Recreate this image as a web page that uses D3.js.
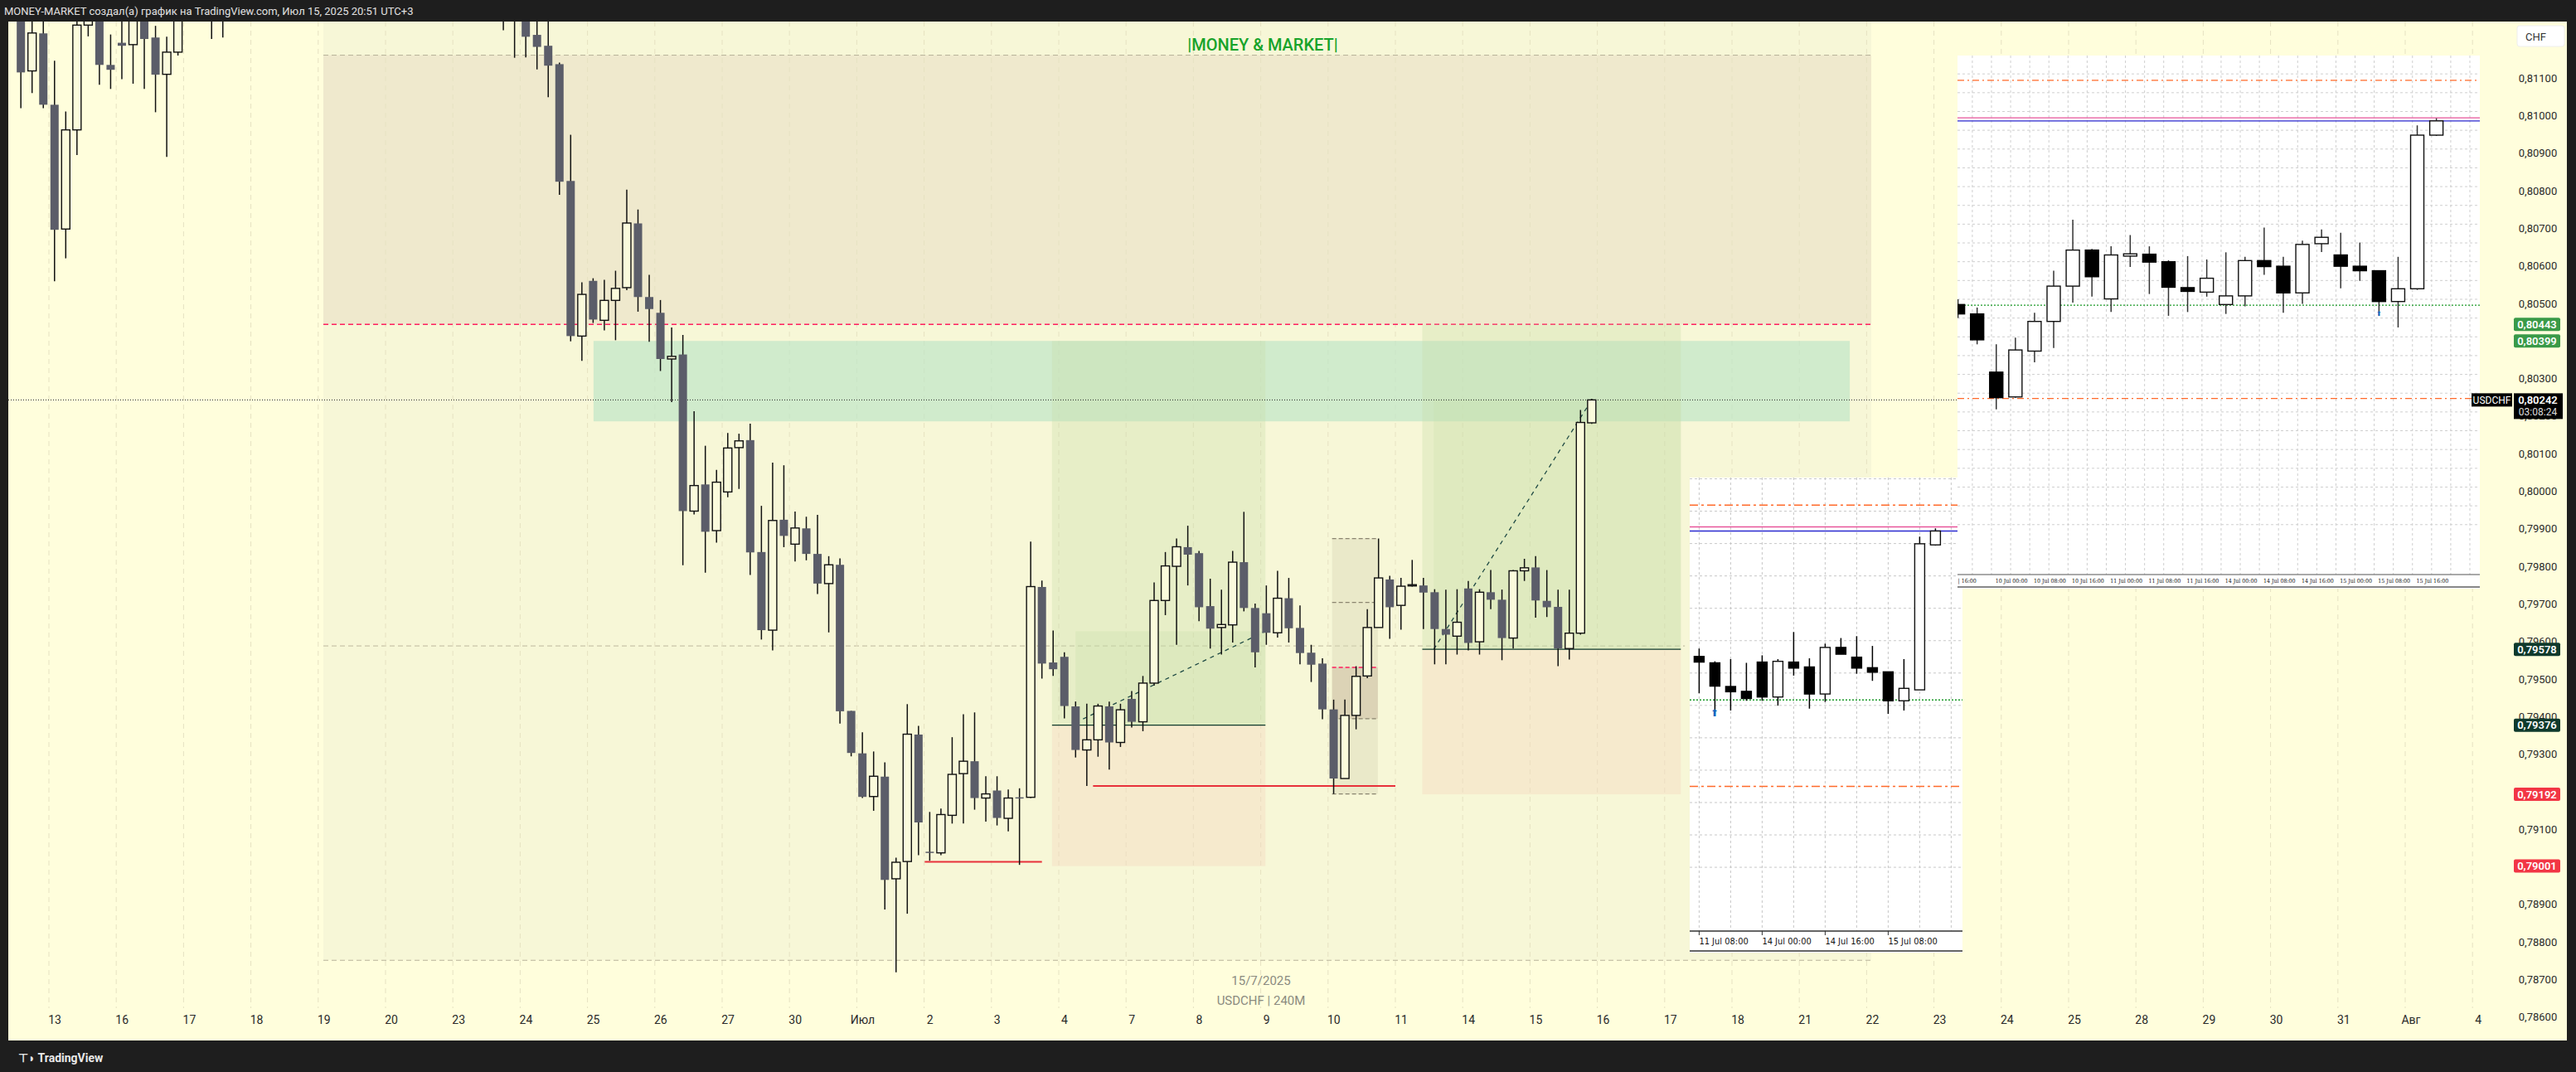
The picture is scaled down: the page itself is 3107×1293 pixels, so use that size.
<!DOCTYPE html>
<html><head><meta charset="utf-8">
<script src="https://cdn.jsdelivr.net/npm/d3@7"></script>
<style>body{margin:0;background:#1e1e1e;overflow:hidden}svg{display:block}</style>
</head><body><svg id="c"></svg>
<script>
// ---- data ----
const dayLabels = ["13","16","17","18","19","20","23","24","25","26","27","30","Июл","2","3","4","7","8","9","10","11","14","15","16","17","18","21","22","23","24","25","28","29","30","31","Авг","4"];
const priceTicks = d3.range(0, 26).map(i => +(0.786 + i * 0.001).toFixed(3));
const firstBar = -3;
// 4H bars [open, high, low, close], from bar -3 (12 Jun) to bar 137 (15 Jul 20:00)
const bars = [
[0.8130,0.8134,0.81019,0.81114],[0.81118,0.8128,0.81059,0.81219],[0.81218,0.8127,0.81019,0.81028],
[0.81028,0.81145,0.80558,0.80695],[0.80697,0.8101,0.80619,0.80961],[0.80961,0.8128,0.80894,0.8124],
[0.8124,0.8134,0.8121,0.8130],[0.8132,0.8136,0.81081,0.81134],[0.81134,0.81215,0.8107,0.81121],
[0.81193,0.8128,0.81096,0.81185],[0.81188,0.8135,0.81084,0.8131],[0.8133,0.8136,0.8107,0.81203],
[0.81207,0.81238,0.81008,0.81108],[0.81109,0.81209,0.80889,0.81168],[0.81168,0.8134,0.81159,0.8130],
[0.8134,0.8140,0.8128,0.8136],[0.8136,0.8142,0.8130,0.8134],[0.8136,0.8140,0.81203,0.8133],
[0.8134,0.8142,0.81207,0.8138],
[0.8138,0.8146,0.8133,0.8143],[0.8143,0.8150,0.8138,0.8140],[0.8140,0.8147,0.8135,0.8145],[0.8145,0.8152,0.8140,0.8149],
[0.8149,0.8156,0.8143,0.8146],[0.8146,0.8153,0.8140,0.8151],[0.8151,0.8158,0.8145,0.8155],[0.8155,0.8160,0.8147,0.8150],
[0.8150,0.8157,0.8144,0.8153],[0.8153,0.8161,0.8148,0.8158],[0.8158,0.8164,0.8151,0.8154],[0.8154,0.8160,0.8147,0.8149],
[0.8149,0.8156,0.8142,0.8152],[0.8152,0.8158,0.8145,0.8147],[0.8147,0.8154,0.8140,0.8150],[0.8150,0.8157,0.8144,0.8146],
[0.8146,0.8152,0.8139,0.8143],[0.8143,0.8150,0.8136,0.8147],[0.8147,0.8153,0.8140,0.8144],[0.8144,0.8150,0.8137,0.8141],
[0.8141,0.8148,0.8134,0.8145],[0.8145,0.8151,0.8138,0.8142],[0.8142,0.8148,0.8135,0.8139],[0.8139,0.8145,0.8132,0.8141],
[0.8140,0.8145,0.81226,0.8135],[0.8134,0.8140,0.81153,0.8137],[0.8134,0.8137,0.81154,0.81209],
[0.81214,0.8128,0.81122,0.81182],[0.81185,0.8125,0.81048,0.81132],[0.81136,0.8114,0.80788,0.80823],
[0.80825,0.80948,0.80398,0.80412],[0.80412,0.80555,0.80346,0.80523],[0.80559,0.80566,0.80447,0.80456],
[0.80454,0.80562,0.80427,0.80507],[0.80507,0.80586,0.80401,0.80539],[0.80541,0.80802,0.80534,0.80713],
[0.80712,0.80749,0.80477,0.80516],[0.80516,0.80575,0.80397,0.80484],[0.80474,0.80508,0.80319,0.80351],
[0.80351,0.80435,0.80236,0.80358],[0.80363,0.80415,0.79802,0.79946],[0.79946,0.80212,0.79937,0.80014],
[0.80017,0.8012,0.79782,0.79891],[0.79894,0.80056,0.79862,0.80023],[0.79997,0.80154,0.79983,0.80114],
[0.80115,0.80152,0.80005,0.80133],[0.80135,0.80179,0.79776,0.79836],[0.79837,0.7996,0.79604,0.79629],
[0.79629,0.80075,0.79575,0.79921],[0.79923,0.80068,0.7985,0.7988],[0.79858,0.79945,0.79812,0.79901],
[0.799,0.79931,0.79815,0.79832],[0.79832,0.79936,0.79725,0.79753],[0.79753,0.79826,0.79623,0.79803],
[0.79803,0.7982,0.7938,0.79413],[0.79414,0.79414,0.79293,0.79302],[0.79301,0.79357,0.79182,0.79185],
[0.79186,0.79306,0.79148,0.7924],[0.79239,0.79277,0.78885,0.78964],[0.78967,0.79023,0.78718,0.79011],
[0.79013,0.79432,0.78874,0.79352],[0.79351,0.79374,0.7903,0.79117],[0.79039,0.79145,0.79015,0.79036],
[0.79036,0.79154,0.7903,0.79138],[0.79136,0.79344,0.79114,0.79245],[0.79247,0.79405,0.79114,0.7928],
[0.7928,0.7941,0.79151,0.79182],[0.79182,0.7924,0.79119,0.79193],[0.79202,0.7924,0.79109,0.79129],
[0.79128,0.79205,0.79093,0.79182],[0.79184,0.79208,0.79004,0.79182],[0.79184,0.79865,0.79182,0.79745],
[0.79744,0.79761,0.795,0.7954],[0.79543,0.79628,0.79507,0.79525],[0.79558,0.7957,0.79394,0.79427],
[0.79426,0.79439,0.7929,0.7931],[0.7931,0.79433,0.79214,0.79337],[0.79337,0.79433,0.79292,0.79427],
[0.79426,0.79439,0.79258,0.7933],[0.7933,0.79433,0.79318,0.79417],[0.79446,0.79467,0.7937,0.79385],
[0.79385,0.79507,0.7936,0.79488],[0.79488,0.79756,0.79481,0.79708],[0.79708,0.79837,0.79669,0.798],
[0.79799,0.79873,0.7959,0.79851],[0.7985,0.79907,0.79748,0.7983],[0.79834,0.7984,0.79653,0.7969],
[0.79693,0.79766,0.7958,0.79633],[0.79636,0.79737,0.79564,0.79644],[0.79643,0.7984,0.79596,0.7981],
[0.7981,0.79944,0.79679,0.79688],[0.79688,0.797,0.7953,0.7957],[0.79674,0.79748,0.7959,0.79622],
[0.79622,0.79787,0.79609,0.79714],[0.79714,0.79768,0.79596,0.79634],[0.79635,0.79695,0.79538,0.79568],
[0.79569,0.7959,0.79491,0.79537],[0.7954,0.79554,0.79392,0.79418],[0.79418,0.79444,0.79193,0.79234],
[0.79234,0.79444,0.79234,0.79402],[0.79402,0.79533,0.79365,0.79506],[0.79507,0.79685,0.79501,0.79636],
[0.79636,0.79873,0.79636,0.79768],[0.79764,0.79774,0.79606,0.7969],[0.79695,0.79768,0.7963,0.79746],
[0.79748,0.79816,0.79745,0.7975],[0.79748,0.79768,0.79632,0.79729],[0.7973,0.79738,0.79538,0.79632],
[0.79632,0.79737,0.79538,0.79617],[0.79613,0.79738,0.79564,0.7965],[0.7974,0.7976,0.79575,0.79595],
[0.79598,0.79738,0.79564,0.7973],[0.7973,0.79789,0.79685,0.7971],[0.7971,0.79737,0.79549,0.79608],
[0.79608,0.79789,0.7958,0.79787],[0.79787,0.79819,0.7976,0.79795],[0.79796,0.79826,0.79662,0.79708],
[0.79707,0.79789,0.79664,0.7969],[0.79691,0.79737,0.79533,0.7958],[0.7958,0.79737,0.79551,0.79621],
[0.79621,0.80215,0.79617,0.80182],[0.80181,0.80245,0.80178,0.80242]
];
// inset 1 (H1 window, upper right)
const inset1Bars = [
[0.80496,0.80510,0.80460,0.80471],[0.80471,0.80488,0.80390,0.80402],[0.80316,0.80390,0.80217,0.80248],
[0.80250,0.80408,0.80248,0.80375],[0.80372,0.80474,0.80342,0.80451],[0.80451,0.80586,0.80380,0.80545],
[0.80545,0.80722,0.80501,0.80641],[0.80641,0.80644,0.80517,0.80570],[0.80511,0.80651,0.80476,0.80628],
[0.80625,0.80681,0.80596,0.80631],[0.80630,0.80651,0.80524,0.80609],[0.80610,0.80614,0.80466,0.80542],
[0.80541,0.80625,0.80476,0.80531],[0.80529,0.80616,0.80517,0.80566],[0.80496,0.80635,0.80471,0.80519],
[0.80519,0.80623,0.80491,0.80613],[0.80613,0.80701,0.80575,0.80597],[0.80598,0.80623,0.80474,0.80527],
[0.80527,0.80666,0.80498,0.80656],[0.80658,0.80696,0.80636,0.80675],[0.80628,0.80687,0.80539,0.80598],
[0.80598,0.80661,0.80559,0.80586],[0.80586,0.80586,0.80466,0.80504],[0.80504,0.80623,0.80435,0.80538],
[0.80538,0.80973,0.80535,0.80947],[0.80947,0.80992,0.80945,0.80985]
];
const inset1Labels = [[0,"| 16:00"],[2,"10 Jul 00:00"],[4,"10 Jul 08:00"],[6,"10 Jul 16:00"],[8,"11 Jul 00:00"],[10,"11 Jul 08:00"],[12,"11 Jul 16:00"],[14,"14 Jul 00:00"],[16,"14 Jul 08:00"],[18,"14 Jul 16:00"],[20,"15 Jul 00:00"],[22,"15 Jul 08:00"],[24,"15 Jul 16:00"]];
const inset1Lines = {orange:[0.81093,0.80246], pink:0.80993, blue:0.80985, green:0.80494};
// inset 2 (lower middle)
const inset2Bars = [
[0.79559,0.79580,0.79461,0.79544],[0.79542,0.79546,0.79410,0.79480],[0.79479,0.79552,0.79415,0.79465],
[0.79466,0.79542,0.79441,0.79447],[0.79544,0.79562,0.79441,0.79451],[0.79451,0.79552,0.79428,0.79546],
[0.79544,0.79624,0.79508,0.79528],[0.79531,0.79554,0.79420,0.79459],[0.79459,0.79593,0.79438,0.79583],
[0.79583,0.79608,0.79565,0.79565],[0.79557,0.79613,0.79513,0.79528],[0.79529,0.79587,0.79494,0.79517],
[0.79518,0.79518,0.79406,0.79441],[0.79441,0.79552,0.79415,0.79474],[0.79470,0.79878,0.79470,0.79859],
[0.79856,0.79900,0.79854,0.79893]
];
const inset2Labels = [[0,"11 Jul 08:00"],[4,"14 Jul 00:00"],[8,"14 Jul 16:00"],[12,"15 Jul 08:00"]];
const inset2Lines = {orange:[0.79962,0.79213], pink:0.79904, blue:0.79893, green:0.79443};
// right-axis price tags
const priceTags = [
 {v:0.80443, t:"0,80443", bg:"#3a9a48"},{v:0.80399, t:"0,80399", bg:"#3a9a48"},
 {v:0.79578, t:"0,79578", bg:"#0f3a2c"},{v:0.79376, t:"0,79376", bg:"#0f3a2c"},
 {v:0.79192, t:"0,79192", bg:"#f23645"},{v:0.79001, t:"0,79001", bg:"#f23645"}
];
const lastPrice = 0.80242, countdown = "03:08:24";

// ---- setup ----
const W = 3107, H = 1293;
const svg = d3.select("#c").attr("width", W).attr("height", H).style("font-family", "Roboto, 'Liberation Sans', sans-serif");
const x = d3.scaleLinear().domain([0, 36]).range([59, 59 + 36 * 81.2]);
const y = d3.scaleLinear().domain([0.786, 0.8]).range([1226.2, 592]);
const bx = b => x((b + 0.5) / 6);

svg.append("rect").attr("width", W).attr("height", H).attr("fill", "#1e1e1e");
svg.append("rect").attr("x", 10).attr("y", 26).attr("width", 3086).attr("height", 1229).attr("fill", "#fffedc");

svg.append("defs").append("clipPath").attr("id", "plot").append("rect").attr("x", 10).attr("y", 26).attr("width", 3010).attr("height", 1190);
const g = svg.append("g").attr("clip-path", "url(#plot)");

// background bands (date range 19 Jun .. 21 Jul)
const bandL = 390, bandR = 2257;
g.append("rect").attr("x", bandL).attr("y", y(0.8125)).attr("width", bandR - bandL).attr("height", y(0.7875) - y(0.8125)).attr("fill", "#f7f7d7");
g.append("rect").attr("x", bandL).attr("y", y(0.8116)).attr("width", bandR - bandL).attr("height", y(0.80443) - y(0.8116)).attr("fill", "#efe9cd");
g.selectAll("line.bd").data([0.8116, 0.7875]).join("line").attr("x1", bandL).attr("x2", bandR)
  .attr("y1", d => y(d)).attr("y2", d => y(d)).attr("stroke", "#b8b39a").attr("stroke-dasharray", "6,4");
g.append("line").attr("x1", bandL).attr("x2", x(24.3)).attr("y1", y(0.79587)).attr("y2", y(0.79587)).attr("stroke", "#bdb89e").attr("stroke-dasharray", "6,4");

// vertical day gridlines
g.selectAll("line.vg").data(d3.range(0, 37)).join("line").attr("x1", d => x(d)).attr("x2", d => x(d))
  .attr("y1", 26).attr("y2", 1216).attr("stroke", "#e6e2c2").attr("stroke-dasharray", "6,5");

// supply zone
g.append("rect").attr("x", x(8.09)).attr("y", y(0.80399)).attr("width", x(26.75) - x(8.09)).attr("height", y(0.80185) - y(0.80399)).attr("fill", "#bfe6c8").attr("opacity", 0.7);
g.append("line").attr("x1", bandL).attr("x2", bandR).attr("y1", y(0.80443)).attr("y2", y(0.80443)).attr("stroke", "#ff1f5e").attr("stroke-dasharray", "6,4").attr("stroke-width", 1.6);

// long position 1
g.append("rect").attr("x", x(14.9)).attr("y", y(0.80399)).attr("width", x(18.07) - x(14.9)).attr("height", y(0.79376) - y(0.80399)).attr("fill", "#c8dea8").attr("opacity", 0.35);
g.append("rect").attr("x", x(15.25)).attr("y", y(0.79626)).attr("width", x(18.07) - x(15.25)).attr("height", y(0.79376) - y(0.79626)).attr("fill", "#c8dea8").attr("opacity", 0.3);
g.append("rect").attr("x", x(14.9)).attr("y", y(0.79376)).attr("width", x(18.07) - x(14.9)).attr("height", y(0.79001) - y(0.79376)).attr("fill", "#f3d9c0").attr("opacity", 0.45);
g.append("line").attr("x1", x(14.9)).attr("x2", x(18.07)).attr("y1", y(0.79376)).attr("y2", y(0.79376)).attr("stroke", "#0f3a2c").attr("stroke-width", 1.2);
// long position 2
g.append("rect").attr("x", x(20.4)).attr("y", y(0.80443)).attr("width", x(24.24) - x(20.4)).attr("height", y(0.79578) - y(0.80443)).attr("fill", "#c8dea8").attr("opacity", 0.35);
g.append("rect").attr("x", x(20.57)).attr("y", y(0.80242)).attr("width", x(24.24) - x(20.57)).attr("height", y(0.79578) - y(0.80242)).attr("fill", "#c8dea8").attr("opacity", 0.25);
g.append("rect").attr("x", x(20.4)).attr("y", y(0.79578)).attr("width", x(24.24) - x(20.4)).attr("height", y(0.79192) - y(0.79578)).attr("fill", "#f3d9c0").attr("opacity", 0.45);
g.append("line").attr("x1", x(20.4)).attr("x2", x(24.24)).attr("y1", y(0.79578)).attr("y2", y(0.79578)).attr("stroke", "#0f3a2c").attr("stroke-width", 1.2);
// range box around 10 Jul
const rb = [x(19.06), x(19.74)];
g.append("rect").attr("x", rb[0]).attr("y", y(0.79873)).attr("width", rb[1] - rb[0]).attr("height", y(0.79193) - y(0.79873)).attr("fill", "#d9d6b8").attr("opacity", 0.45);
g.append("rect").attr("x", rb[0]).attr("y", y(0.79530)).attr("width", rb[1] - rb[0]).attr("height", y(0.79393) - y(0.79530)).attr("fill", "#cdb8a0").attr("opacity", 0.45);
g.selectAll("line.rb").data([0.79873, 0.79703, 0.79393, 0.79193]).join("line").attr("x1", rb[0]).attr("x2", rb[1])
  .attr("y1", d => y(d)).attr("y2", d => y(d)).attr("stroke", "#8a8570").attr("stroke-dasharray", "5,3").attr("stroke-width", 1.2);
g.append("line").attr("x1", rb[0]).attr("x2", rb[1]).attr("y1", y(0.7953)).attr("y2", y(0.7953)).attr("stroke", "#ff1f5e").attr("stroke-dasharray", "5,3").attr("stroke-width", 1.5);
// red lows
g.append("line").attr("x1", bx(78) - 6).attr("x2", x(14.75)).attr("y1", y(0.79012)).attr("y2", y(0.79012)).attr("stroke", "#e8303a").attr("stroke-width", 2);
g.append("line").attr("x1", bx(93) - 6).attr("x2", x(20.0)).attr("y1", y(0.79214)).attr("y2", y(0.79214)).attr("stroke", "#e8303a").attr("stroke-width", 2);
// dashed projection lines
g.append("line").attr("x1", x(15.25)).attr("y1", y(0.79383)).attr("x2", x(18.07)).attr("y2", y(0.79626)).attr("stroke", "#1f4a44").attr("stroke-dasharray", "5,5").attr("stroke-width", 1.3);
g.append("line").attr("x1", x(20.57)).attr("y1", y(0.79578)).attr("x2", bx(137)).attr("y2", y(0.80242)).attr("stroke", "#1f4a44").attr("stroke-dasharray", "5,5").attr("stroke-width", 1.3);
// last price dotted line
g.append("line").attr("x1", 10).attr("x2", 2362).attr("y1", y(lastPrice)).attr("y2", y(lastPrice)).attr("stroke", "#222").attr("stroke-dasharray", "1,2");

// main candles
function drawCandles(sel, data, xf, w, up, dn, wick) {
  const c = sel.selectAll(null).data(data).join("g");
  c.append("line").attr("x1", (d, i) => xf(i)).attr("x2", (d, i) => xf(i))
    .attr("y1", d => y(d[1])).attr("y2", d => y(d[2])).attr("stroke", wick).attr("stroke-width", 1.5);
  c.append("rect").attr("x", (d, i) => xf(i) - w / 2).attr("width", w)
    .attr("y", d => y(Math.max(d[0], d[3]))).attr("height", d => Math.max(1.5, Math.abs(y(d[0]) - y(d[3]))))
    .attr("fill", d => d[3] >= d[0] ? up : dn).attr("stroke", d => d[3] >= d[0] ? "#111" : (dn === "#000" ? "#000" : "none")).attr("stroke-width", 1.4);
}
drawCandles(g, bars, i => bx(i + firstBar), 10, "#fbfbdc", "#5b5d69", "#111");

// texts on chart
svg.append("text").attr("x", 1523).attr("y", 61).attr("text-anchor", "middle").attr("fill", "#17a32a").attr("font-size", 20).attr("font-weight", 500).text("|MONEY & MARKET|");
svg.append("text").attr("x", 1521).attr("y", 1188).attr("text-anchor", "middle").attr("fill", "#8b8b80").attr("font-size", 15).text("15/7/2025");
svg.append("text").attr("x", 1521).attr("y", 1212).attr("text-anchor", "middle").attr("fill", "#8b8b80").attr("font-size", 15).text("USDCHF | 240M");

// ---- inset 2 ----
{
  const L = 2038, R = 2367, T = 576, A = 1123, B = 1149;
  const xi = i => 2049.4 + 19.0 * i;
  const gi = svg.append("g");
  gi.append("rect").attr("x", L).attr("y", T).attr("width", R - L).attr("height", B - T).attr("fill", "#fff");
  gi.selectAll("line.h").data(d3.range(0, 13).map(k => 0.80032 - k * 0.000862)).join("line")
    .attr("x1", L).attr("x2", R).attr("y1", d => y(d)).attr("y2", d => y(d)).attr("stroke", "#c8c8c8").attr("stroke-dasharray", "3,3");
  gi.selectAll("line.v").data(d3.range(0, 18, 2)).join("line")
    .attr("x1", d => xi(d)).attr("x2", d => xi(d)).attr("y1", T).attr("y2", A).attr("stroke", "#c8c8c8").attr("stroke-dasharray", "3,3");
  inset2Lines.orange.forEach(v => gi.append("line").attr("x1", L).attr("x2", R).attr("y1", y(v)).attr("y2", y(v)).attr("stroke", "#ff6a2a").attr("stroke-dasharray", "10,4,3,4").attr("stroke-width", 1.5));
  gi.append("line").attr("x1", L).attr("x2", R).attr("y1", y(inset2Lines.pink)).attr("y2", y(inset2Lines.pink)).attr("stroke", "#e8559a").attr("stroke-width", 1.5);
  gi.append("line").attr("x1", L).attr("x2", R).attr("y1", y(inset2Lines.blue)).attr("y2", y(inset2Lines.blue)).attr("stroke", "#2a2ad0").attr("stroke-width", 1.5);
  gi.append("line").attr("x1", L).attr("x2", R).attr("y1", y(inset2Lines.green)).attr("y2", y(inset2Lines.green)).attr("stroke", "#1c9a2a").attr("stroke-dasharray", "2,2").attr("stroke-width", 1.5);
  drawCandles(gi, inset2Bars, xi, 12, "#fff", "#000", "#000");
  gi.append("text").attr("x", xi(1)).attr("y", y(0.79400)).attr("text-anchor", "middle").attr("fill", "#1565c0").attr("font-size", 12).text("⬆");
  gi.append("line").attr("x1", L).attr("x2", R).attr("y1", A).attr("y2", A).attr("stroke", "#333").attr("stroke-width", 1.5);
  gi.append("line").attr("x1", L).attr("x2", R).attr("y1", B - 2).attr("y2", B - 2).attr("stroke", "#333").attr("stroke-width", 1.5);
  gi.selectAll("text.l").data(inset2Labels).join("text").attr("x", d => xi(d[0])).attr("y", 1139).attr("font-size", 11).attr("fill", "#111")
    .attr("font-family", "'DejaVu Sans Condensed', 'Liberation Sans Narrow', sans-serif").text(d => d[1]);
  gi.selectAll("line.t").data(inset2Labels).join("line").attr("x1", d => xi(d[0])).attr("x2", d => xi(d[0])).attr("y1", A).attr("y2", A + 5).attr("stroke", "#333");
}
// ---- inset 1 ----
{
  const L = 2361, R = 2991, T = 67, A = 693, B = 710;
  const xi = i => 2361.6 + 23.08 * i;
  const gi = svg.append("g");
  gi.append("clipPath").attr("id", "i1").append("rect").attr("x", L).attr("y", T).attr("width", R - L).attr("height", B - T);
  const gc = gi.append("g").attr("clip-path", "url(#i1)");
  gc.append("rect").attr("x", L).attr("y", T).attr("width", R - L).attr("height", B - T).attr("fill", "#fff");
  gc.selectAll("line.h").data(d3.range(0, 27).map(k => 0.8121 - k * 0.0005)).join("line")
    .attr("x1", L).attr("x2", R).attr("y1", d => y(d)).attr("y2", d => y(d)).attr("stroke", "#cfcfcf").attr("stroke-dasharray", "3,3");
  gc.selectAll("line.v").data(d3.range(0, 28)).join("line")
    .attr("x1", d => xi(d + 0.75)).attr("x2", d => xi(d + 0.75)).attr("y1", T).attr("y2", A).attr("stroke", "#cfcfcf").attr("stroke-dasharray", "3,3");
  inset1Lines.orange.forEach(v => gc.append("line").attr("x1", L).attr("x2", R).attr("y1", y(v)).attr("y2", y(v)).attr("stroke", "#ff6a2a").attr("stroke-dasharray", "8,4,2,4").attr("stroke-width", 1.2));
  gc.append("line").attr("x1", L).attr("x2", R).attr("y1", y(inset1Lines.pink)).attr("y2", y(inset1Lines.pink)).attr("stroke", "#e8559a").attr("stroke-width", 1.3);
  gc.append("line").attr("x1", L).attr("x2", R).attr("y1", y(inset1Lines.blue)).attr("y2", y(inset1Lines.blue)).attr("stroke", "#2a2ad0").attr("stroke-width", 1.3);
  gc.append("line").attr("x1", L).attr("x2", R).attr("y1", y(inset1Lines.green)).attr("y2", y(inset1Lines.green)).attr("stroke", "#1c9a2a").attr("stroke-dasharray", "2,2").attr("stroke-width", 1.3);
  drawCandles(gc, inset1Bars, xi, 16, "#fff", "#000", "#333");
  gc.append("text").attr("x", xi(22)).attr("y", y(0.80465)).attr("text-anchor", "middle").attr("fill", "#1565c0").attr("font-size", 8).text("⬆");
  gc.append("line").attr("x1", L).attr("x2", R).attr("y1", A).attr("y2", A).attr("stroke", "#555").attr("stroke-width", 1.2);
  gc.append("line").attr("x1", L).attr("x2", R).attr("y1", B - 2).attr("y2", B - 2).attr("stroke", "#888").attr("stroke-width", 2);
  gc.selectAll("text.l").data(inset1Labels).join("text").attr("x", d => xi(d[0]) + (d[0] ? -1 : 0)).attr("y", 703).attr("font-size", 7).attr("fill", "#111")
    .attr("font-family", "'DejaVu Serif Condensed', 'Liberation Serif', serif").text(d => d[1]);
}

// ---- axes ----
svg.selectAll("text.dl").data(dayLabels).join("text").attr("x", (d, i) => x(i) + 7).attr("y", 1235)
  .attr("text-anchor", "middle").attr("font-size", 14).attr("fill", "#2a2a2a").text(d => d);
svg.selectAll("text.pl").data(priceTicks).join("text").attr("x", 3061).attr("y", d => y(d) + 5)
  .attr("text-anchor", "middle").attr("font-size", 13).attr("fill", "#2a2a2a").text(d => d.toFixed(5).replace(".", ","));
const tg = svg.selectAll("g.tag").data(priceTags).join("g").attr("transform", d => `translate(3032,${y(d.v) - 8})`);
tg.append("rect").attr("width", 56).attr("height", 16).attr("rx", 2).attr("fill", d => d.bg);
tg.append("text").attr("x", 28).attr("y", 12.5).attr("text-anchor", "middle").attr("font-size", 13).attr("font-weight", 600).attr("fill", "#fff").text(d => d.t);
// last price tag
const ly = y(lastPrice) - 8;
svg.append("rect").attr("x", 2981).attr("y", ly).attr("width", 49).attr("height", 16).attr("fill", "#000");
svg.append("text").attr("x", 3005.5).attr("y", ly + 12.5).attr("text-anchor", "middle").attr("font-size", 12).attr("fill", "#fff").text("USDCHF");
svg.append("rect").attr("x", 3032).attr("y", ly).attr("width", 59).attr("height", 31).attr("fill", "#000");
svg.append("text").attr("x", 3061).attr("y", ly + 12.5).attr("text-anchor", "middle").attr("font-size", 13).attr("font-weight", 600).attr("fill", "#fff").text(lastPrice.toFixed(5).replace(".", ","));
svg.append("text").attr("x", 3061).attr("y", ly + 27).attr("text-anchor", "middle").attr("font-size", 12).attr("fill", "#ddd").text(countdown);
// currency box
svg.append("rect").attr("x", 3036).attr("y", 31).attr("width", 57).attr("height", 25).attr("rx", 3).attr("fill", "#fff").attr("stroke", "#eee");
svg.append("text").attr("x", 3046).attr("y", 49).attr("font-size", 13).attr("fill", "#333").text("CHF");

// header and footer
svg.append("text").attr("x", 5).attr("y", 18).attr("font-size", 13).attr("fill", "#e0e0e0")
  .text("MONEY-MARKET создал(а) график на TradingView.com, Июл 15, 2025 20:51 UTC+3");
svg.append("text").attr("x", 22).attr("y", 1281).attr("font-size", 14).attr("font-weight", 700).attr("fill", "#e8e8e8").text("⊤◗ TradingView");
</script></body></html>
